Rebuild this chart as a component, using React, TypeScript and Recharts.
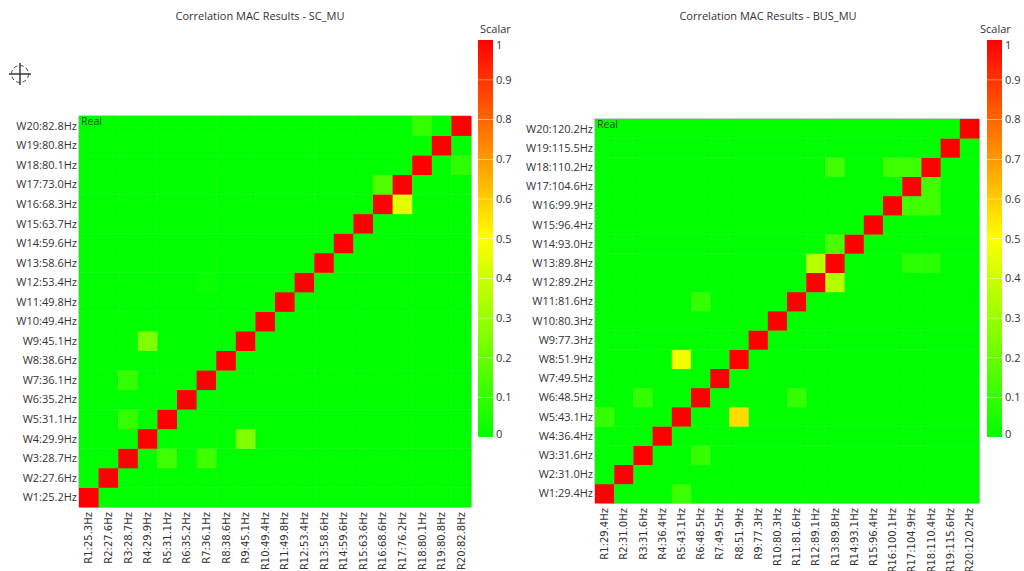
import React from "react";
import { ScatterChart, Scatter, XAxis, YAxis, ReferenceArea, BarChart, Bar } from "recharts";

// ---------- data ----------
const scTitle = "Correlation MAC Results - SC_MU";
const busTitle = "Correlation MAC Results - BUS_MU";

const scRLabels = ["R1:25.3Hz", "R2:27.6Hz", "R3:28.7Hz", "R4:29.9Hz", "R5:31.1Hz", "R6:35.2Hz", "R7:36.1Hz", "R8:38.6Hz", "R9:45.1Hz", "R10:49.4Hz", "R11:49.8Hz", "R12:53.4Hz", "R13:58.6Hz", "R14:59.6Hz", "R15:63.6Hz", "R16:68.6Hz", "R17:76.2Hz", "R18:80.1Hz", "R19:80.8Hz", "R20:82.8Hz"];
const scWLabels = ["W1:25.2Hz", "W2:27.6Hz", "W3:28.7Hz", "W4:29.9Hz", "W5:31.1Hz", "W6:35.2Hz", "W7:36.1Hz", "W8:38.6Hz", "W9:45.1Hz", "W10:49.4Hz", "W11:49.8Hz", "W12:53.4Hz", "W13:58.6Hz", "W14:59.6Hz", "W15:63.7Hz", "W16:68.3Hz", "W17:73.0Hz", "W18:80.1Hz", "W19:80.8Hz", "W20:82.8Hz"];
const scDiagonal = [1, 1, 1, 1, 1, 1, 1, 1, 1, 1, 1, 1, 1, 1, 1, 1, 1, 1, 1, 1];
// [W index, R index, MAC value]
const scOffDiagonal: [number, number, number][] = [
  [20, 18, 0.1],
  [18, 20, 0.09],
  [17, 16, 0.15],
  [16, 17, 0.44],
  [12, 7, 0.02],
  [9, 4, 0.25],
  [7, 3, 0.1],
  [5, 3, 0.1],
  [4, 9, 0.25],
  [3, 5, 0.12],
  [3, 7, 0.12],
];

const busRLabels = ["R1:29.4Hz", "R2:31.0Hz", "R3:31.6Hz", "R4:36.4Hz", "R5:43.1Hz", "R6:48.5Hz", "R7:49.5Hz", "R8:51.9Hz", "R9:77.3Hz", "R10:80.3Hz", "R11:81.6Hz", "R12:89.1Hz", "R13:89.8Hz", "R14:93.1Hz", "R15:96.4Hz", "R16:100.1Hz", "R17:104.9Hz", "R18:110.4Hz", "R19:115.6Hz", "R20:120.2Hz"];
const busWLabels = ["W1:29.4Hz", "W2:31.0Hz", "W3:31.6Hz", "W4:36.4Hz", "W5:43.1Hz", "W6:48.5Hz", "W7:49.5Hz", "W8:51.9Hz", "W9:77.3Hz", "W10:80.3Hz", "W11:81.6Hz", "W12:89.2Hz", "W13:89.8Hz", "W14:93.0Hz", "W15:96.4Hz", "W16:99.9Hz", "W17:104.6Hz", "W18:110.2Hz", "W19:115.5Hz", "W20:120.2Hz"];
const busDiagonal = [1, 1, 1, 1, 1, 1, 1, 1, 1, 1, 1, 1, 1, 1, 1, 1, 1, 1, 1, 1];
const busOffDiagonal: [number, number, number][] = [
  [18, 13, 0.13],
  [18, 16, 0.12],
  [18, 17, 0.12],
  [17, 18, 0.12],
  [16, 17, 0.12],
  [16, 18, 0.12],
  [14, 13, 0.14],
  [13, 12, 0.36],
  [13, 17, 0.08],
  [13, 18, 0.08],
  [12, 13, 0.35],
  [11, 6, 0.1],
  [8, 5, 0.47],
  [6, 3, 0.1],
  [6, 11, 0.1],
  [5, 1, 0.1],
  [5, 8, 0.57],
  [3, 6, 0.1],
  [1, 5, 0.12],
];

const scalarTicks = [0, 0.1, 0.2, 0.3, 0.4, 0.5, 0.6, 0.7, 0.8, 0.9, 1];
const scalarBands = [0, 0.1, 0.2, 0.3, 0.4, 0.5, 0.6, 0.7, 0.8, 0.9];
const cellTicks = [0.5, 1.5, 2.5, 3.5, 4.5, 5.5, 6.5, 7.5, 8.5, 9.5, 10.5, 11.5, 12.5, 13.5, 14.5, 15.5, 16.5, 17.5, 18.5, 19.5];

// ---------- helpers ----------
function colorOf(v: number): string {
  const t = Math.max(0, Math.min(1, v));
  let r: number, g: number;
  if (t <= 0.5) {
    r = Math.round(255 * (t / 0.5));
    g = 255;
  } else {
    r = 255;
    g = Math.round(255 * (1 - (t - 0.5) / 0.5));
  }
  return `rgb(${r},${g},0)`;
}

type CellDatum = { x: number; y: number; v: number };

function buildCells(diag: number[], off: [number, number, number][]): CellDatum[] {
  const cells: CellDatum[] = [];
  for (let w = 1; w <= diag.length; w++) {
    for (let r = 1; r <= diag.length; r++) {
      let v = 0;
      if (w === r) v = diag[w - 1];
      const hit = off.find((o) => o[0] === w && o[1] === r);
      if (hit) v = hit[2];
      cells.push({ x: r - 0.5, y: w - 0.5, v });
    }
  }
  return cells;
}

const FONT_UI = "'Open Sans', 'DejaVu Sans', sans-serif";
const FONT_AX = "'DejaVu Sans', sans-serif";

type HeatProps = {
  id: string;
  title: string;
  rLabels: string[];
  wLabels: string[];
  cells: CellDatum[];
  left: number;
  width: number;
  margin: { top: number; right: number; bottom: number; left: number };
  yAxisWidth: number;
  xAxisHeight: number;
  legendLeft: number;
  scalarLeft: number;
};

function Heatmap(p: HeatProps) {
  const plotW = p.width - p.margin.left - p.margin.right - p.yAxisWidth;
  const plotH = 571 - p.margin.top - p.margin.bottom - p.xAxisHeight;
  const cw = plotW / p.rLabels.length;
  const ch = plotH / p.wLabels.length;

  const renderCell = (props: any) => {
    const { cx, cy, payload } = props;
    if (cx == null || cy == null) return <g />;
    return (
      <rect
        x={cx - cw / 2}
        y={cy - ch / 2}
        width={cw + 0.4}
        height={ch + 0.4}
        fill={colorOf(payload.v)}
        stroke="none"
      />
    );
  };

  const XTick = (props: any) => {
    const { x, y, payload } = props;
    const label = p.rLabels[Math.floor(payload.value)];
    return (
      <g transform={`translate(${x},${y})`}>
        <text
          x={0}
          y={0}
          dy={3.6}
          transform="rotate(-90)"
          textAnchor="end"
          fontSize={10}
          fontFamily={FONT_AX}
          fill="#333"
        >
          {label}
        </text>
      </g>
    );
  };

  const YTick = (props: any) => {
    const { x, y, payload } = props;
    const label = p.wLabels[Math.floor(payload.value)];
    return (
      <text x={x} y={y} dy={4} textAnchor="end" fontSize={11} fontFamily={FONT_UI} fill="#333">
        {label}
      </text>
    );
  };

  const bandData = [
    Object.fromEntries([["name", "s"], ...scalarBands.map((b, i) => [`b${i}`, 0.1])]),
  ];

  const BandShape = (i: number) => (props: any) => {
    const { x, y, width, height } = props;
    const gid = `${p.id}-grad-${i}`;
    const lo = scalarBands[i];
    const hi = lo + 0.1;
    return (
      <g>
        <defs>
          <linearGradient id={gid} x1="0" y1="1" x2="0" y2="0">
            <stop offset="0%" stopColor={colorOf(lo)} />
            <stop offset="100%" stopColor={colorOf(hi)} />
          </linearGradient>
        </defs>
        <rect x={x} y={y} width={width} height={height} fill={`url(#${gid})`} />
        {i < scalarBands.length - 1 ? (
          <line x1={x} x2={x + width} y1={y} y2={y} stroke="#ffffff" strokeOpacity={0.75} strokeWidth={1} />
        ) : null}
      </g>
    );
  };

  const LegendTick = (props: any) => {
    const { x, y, payload } = props;
    const v = payload.value as number;
    const label = v === 1 ? "1" : v === 0 ? "0" : v.toFixed(1);
    const adj = v === 1 ? 5 : v === 0 ? -3 : 0;
    return (
      <text x={x} y={y + adj} dy={4} textAnchor="start" fontSize={11} fontFamily={FONT_UI} fill="#333">
        {label}
      </text>
    );
  };

  return (
    <>
      <div
        style={{
          position: "absolute",
          left: p.left,
          top: 9,
          width: p.width,
          textAlign: "center",
          fontFamily: FONT_UI,
          fontSize: 11,
          color: "#333",
          lineHeight: "14px",
        }}
      >
        {p.title}
      </div>
      <div
        style={{
          position: "absolute",
          left: p.scalarLeft,
          top: 22,
          fontFamily: FONT_UI,
          fontSize: 11,
          color: "#333",
          lineHeight: "14px",
        }}
      >
        Scalar
      </div>
      <div style={{ position: "absolute", left: p.left, top: 0 }}>
        <ScatterChart width={p.width} height={571} margin={p.margin}>
          <XAxis
            type="number"
            dataKey="x"
            domain={[0, 20]}
            ticks={cellTicks}
            interval={0}
            tickLine={false}
            axisLine={false}
            tickSize={0}
            tickMargin={5}
            height={p.xAxisHeight}
            tick={<XTick />}
          />
          <YAxis
            type="number"
            dataKey="y"
            domain={[0, 20]}
            ticks={cellTicks}
            interval={0}
            tickLine={false}
            axisLine={false}
            tickSize={0}
            tickMargin={2}
            width={p.yAxisWidth}
            tick={<YTick />}
          />
          <Scatter data={p.cells} shape={renderCell} isAnimationActive={false} />
          <ReferenceArea
            x1={0}
            x2={20}
            y1={0}
            y2={20}
            fill="none"
            fillOpacity={0}
            stroke="#a0a0a0"
            strokeWidth={1}
            ifOverflow="visible"
            label={{ value: "Real", position: "insideTopLeft", offset: 2, fontSize: 10.5, fontFamily: FONT_UI, fill: "#2a4a2a" }}
          />
        </ScatterChart>
      </div>
      <div style={{ position: "absolute", left: p.legendLeft - 8, top: 30 }}>
        <BarChart width={60} height={420} data={bandData} margin={{ top: 10, right: 0, bottom: 13, left: 8 }} barCategoryGap={0}>
          <XAxis dataKey="name" hide />
          <YAxis
            orientation="right"
            type="number"
            domain={[0, 1]}
            ticks={scalarTicks}
            interval={0}
            tickLine={false}
            axisLine={false}
            tickSize={0}
            tickMargin={3}
            width={37}
            tick={<LegendTick />}
          />
          {scalarBands.map((b, i) => (
            <Bar key={i} dataKey={`b${i}`} stackId="s" shape={BandShape(i)} isAnimationActive={false} />
          ))}
        </BarChart>
      </div>
    </>
  );
}

const scCells = buildCells(scDiagonal, scOffDiagonal);
const busCells = buildCells(busDiagonal, busOffDiagonal);

export default function App() {
  return (
    <div style={{ position: "absolute", left: 0, top: 0, width: 1024, height: 571, background: "#fff", overflow: "hidden" }}>
      <svg style={{ position: "absolute", left: 8, top: 62 }} width={24} height={24}>
        <circle cx={12} cy={12} r={8.5} fill="none" stroke="#444" strokeWidth={1} strokeDasharray="4 2.6" />
        <line x1={12} y1={1} x2={12} y2={23} stroke="#444" strokeWidth={1.6} />
        <line x1={1} y1={12} x2={23} y2={12} stroke="#444" strokeWidth={1.6} />
      </svg>
      <Heatmap
        id="sc"
        title={scTitle}
        rLabels={scRLabels}
        wLabels={scWLabels}
        cells={scCells}
        left={0}
        width={520}
        margin={{ top: 116, right: 49, bottom: 4, left: 9 }}
        yAxisWidth={70}
        xAxisHeight={60}
        legendLeft={478}
        scalarLeft={480}
      />
      <Heatmap
        id="bus"
        title={busTitle}
        rLabels={busRLabels}
        wLabels={busWLabels}
        cells={busCells}
        left={512}
        width={512}
        margin={{ top: 119, right: 45, bottom: 4, left: 5 }}
        yAxisWidth={78}
        xAxisHeight={64}
        legendLeft={987}
        scalarLeft={980}
      />
    </div>
  );
}
